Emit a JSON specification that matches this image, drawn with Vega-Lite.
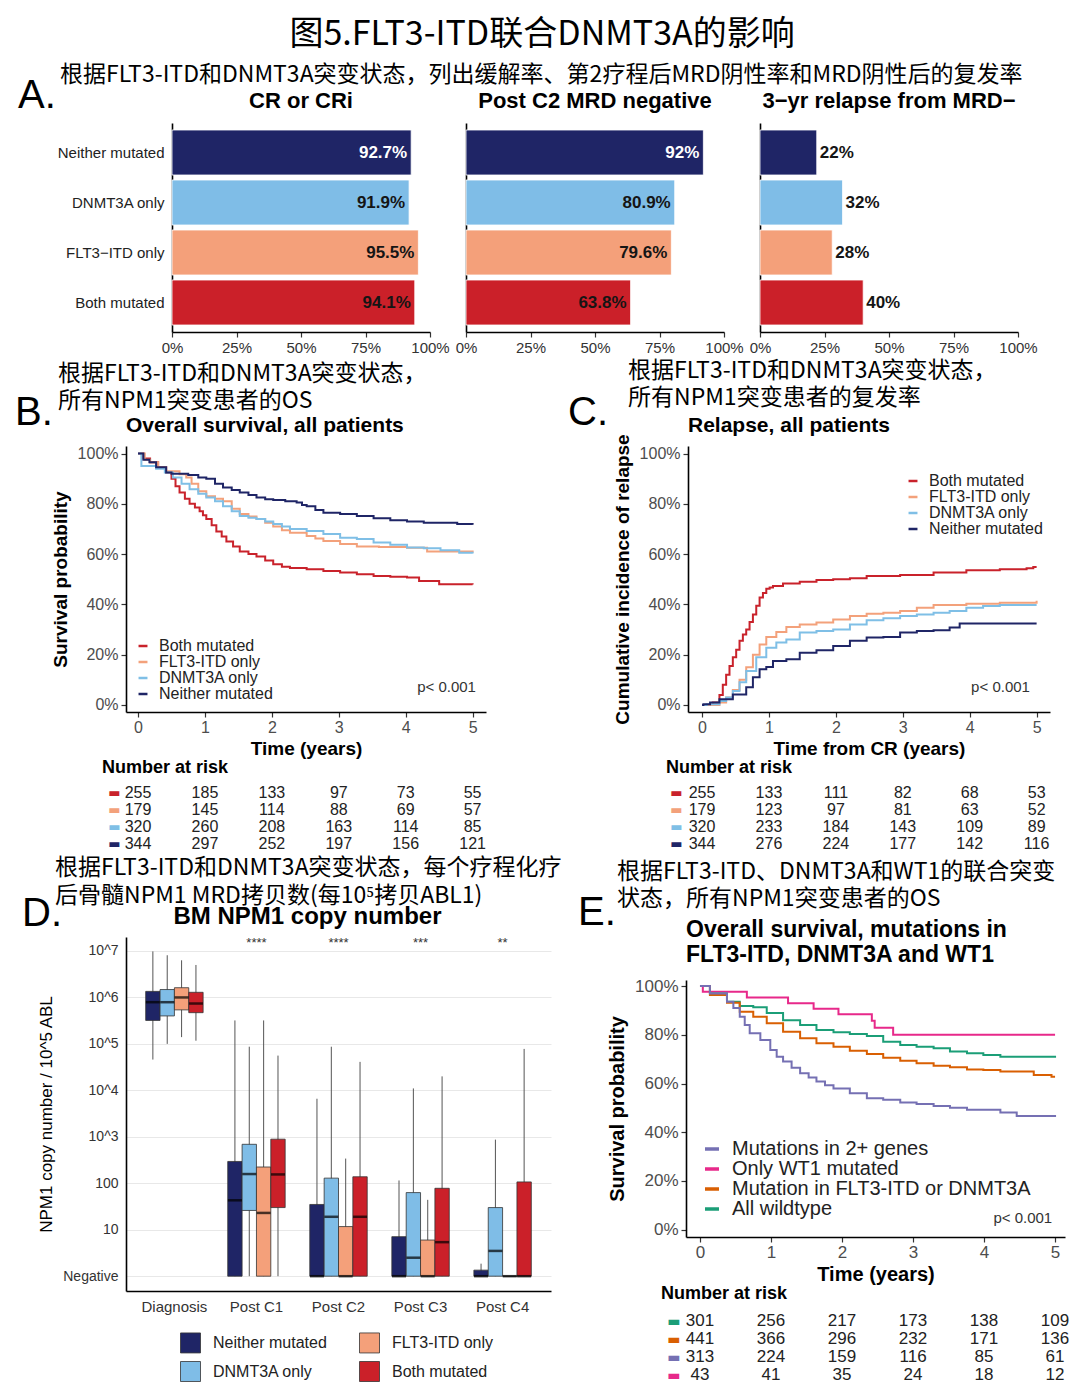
{
"$schema": "https://vega.github.io/schema/vega-lite/v6.json",
"background": "white",
"padding": {"left": 15, "top": 18, "right": 5, "bottom": 0},
"config": {
  "view": {"stroke": null},
  "font": "Liberation Sans",
  "axis": {"domainColor": "black", "domainWidth": 1.6, "tickColor": "#333", "tickWidth": 1.2, "tickSize": 5, "labelColor": "#4d4d4d", "labelFontSize": 16, "labelFont": "Liberation Sans", "titleFont": "Liberation Sans", "titleFontSize": 19, "titleFontWeight": "bold", "titleColor": "black", "grid": false},
  "legend": {"labelFont": "Liberation Sans", "labelColor": "#222", "labelLimit": 400},
  "title": {"font": "Liberation Sans", "color": "black"}
},
"datasets": {
  "A": [
    {"g": "Neither mutated", "cr": 0.927, "crl": "92.7%", "mrd": 0.92, "mrdl": "92%", "rel": 0.22, "rell": "22%"},
    {"g": "DNMT3A only", "cr": 0.919, "crl": "91.9%", "mrd": 0.809, "mrdl": "80.9%", "rel": 0.32, "rell": "32%"},
    {"g": "FLT3−ITD only", "cr": 0.955, "crl": "95.5%", "mrd": 0.796, "mrdl": "79.6%", "rel": 0.28, "rell": "28%"},
    {"g": "Both mutated", "cr": 0.941, "crl": "94.1%", "mrd": 0.638, "mrdl": "63.8%", "rel": 0.40, "rell": "40%"}
  ],
  "osB": [
    {"g":"Both mutated","t":0,"s":1},{"g":"Both mutated","t":0.08,"s":0.98},{"g":"Both mutated","t":0.18,"s":0.965},{"g":"Both mutated","t":0.3,"s":0.945},{"g":"Both mutated","t":0.42,"s":0.925},{"g":"Both mutated","t":0.5,"s":0.9},{"g":"Both mutated","t":0.56,"s":0.87},{"g":"Both mutated","t":0.62,"s":0.845},{"g":"Both mutated","t":0.7,"s":0.82},{"g":"Both mutated","t":0.77,"s":0.8},{"g":"Both mutated","t":0.85,"s":0.785},{"g":"Both mutated","t":0.92,"s":0.77},{"g":"Both mutated","t":0.97,"s":0.755},{"g":"Both mutated","t":1.02,"s":0.74},{"g":"Both mutated","t":1.1,"s":0.715},{"g":"Both mutated","t":1.17,"s":0.69},{"g":"Both mutated","t":1.25,"s":0.67},{"g":"Both mutated","t":1.32,"s":0.65},{"g":"Both mutated","t":1.42,"s":0.63},{"g":"Both mutated","t":1.52,"s":0.61},{"g":"Both mutated","t":1.65,"s":0.6},{"g":"Both mutated","t":1.77,"s":0.59},{"g":"Both mutated","t":1.9,"s":0.575},{"g":"Both mutated","t":2.02,"s":0.56},{"g":"Both mutated","t":2.15,"s":0.55},{"g":"Both mutated","t":2.27,"s":0.545},{"g":"Both mutated","t":2.52,"s":0.54},{"g":"Both mutated","t":2.77,"s":0.533},{"g":"Both mutated","t":3.02,"s":0.527},{"g":"Both mutated","t":3.27,"s":0.52},{"g":"Both mutated","t":3.52,"s":0.513},{"g":"Both mutated","t":3.77,"s":0.51},{"g":"Both mutated","t":4.02,"s":0.507},{"g":"Both mutated","t":4.2,"s":0.493},{"g":"Both mutated","t":4.5,"s":0.48},{"g":"Both mutated","t":5,"s":0.479},
    {"g":"FLT3-ITD only","t":0,"s":1},{"g":"FLT3-ITD only","t":0.1,"s":0.975},{"g":"FLT3-ITD only","t":0.18,"s":0.965},{"g":"FLT3-ITD only","t":0.3,"s":0.945},{"g":"FLT3-ITD only","t":0.42,"s":0.93},{"g":"FLT3-ITD only","t":0.62,"s":0.918},{"g":"FLT3-ITD only","t":0.72,"s":0.905},{"g":"FLT3-ITD only","t":0.8,"s":0.88},{"g":"FLT3-ITD only","t":0.9,"s":0.85},{"g":"FLT3-ITD only","t":1.02,"s":0.83},{"g":"FLT3-ITD only","t":1.15,"s":0.82},{"g":"FLT3-ITD only","t":1.27,"s":0.81},{"g":"FLT3-ITD only","t":1.4,"s":0.78},{"g":"FLT3-ITD only","t":1.52,"s":0.76},{"g":"FLT3-ITD only","t":1.65,"s":0.75},{"g":"FLT3-ITD only","t":1.77,"s":0.74},{"g":"FLT3-ITD only","t":1.9,"s":0.725},{"g":"FLT3-ITD only","t":2.02,"s":0.71},{"g":"FLT3-ITD only","t":2.15,"s":0.695},{"g":"FLT3-ITD only","t":2.27,"s":0.685},{"g":"FLT3-ITD only","t":2.52,"s":0.672},{"g":"FLT3-ITD only","t":2.65,"s":0.662},{"g":"FLT3-ITD only","t":2.77,"s":0.652},{"g":"FLT3-ITD only","t":3.02,"s":0.64},{"g":"FLT3-ITD only","t":3.27,"s":0.63},{"g":"FLT3-ITD only","t":3.6,"s":0.628},{"g":"FLT3-ITD only","t":4.02,"s":0.625},{"g":"FLT3-ITD only","t":4.32,"s":0.61},{"g":"FLT3-ITD only","t":5,"s":0.606},
    {"g":"DNMT3A only","t":0,"s":1},{"g":"DNMT3A only","t":0.05,"s":0.95},{"g":"DNMT3A only","t":0.27,"s":0.94},{"g":"DNMT3A only","t":0.4,"s":0.925},{"g":"DNMT3A only","t":0.52,"s":0.905},{"g":"DNMT3A only","t":0.65,"s":0.88},{"g":"DNMT3A only","t":0.77,"s":0.858},{"g":"DNMT3A only","t":0.9,"s":0.84},{"g":"DNMT3A only","t":1.02,"s":0.825},{"g":"DNMT3A only","t":1.15,"s":0.81},{"g":"DNMT3A only","t":1.27,"s":0.79},{"g":"DNMT3A only","t":1.4,"s":0.77},{"g":"DNMT3A only","t":1.52,"s":0.752},{"g":"DNMT3A only","t":1.65,"s":0.745},{"g":"DNMT3A only","t":1.77,"s":0.74},{"g":"DNMT3A only","t":1.9,"s":0.73},{"g":"DNMT3A only","t":2.02,"s":0.72},{"g":"DNMT3A only","t":2.15,"s":0.71},{"g":"DNMT3A only","t":2.27,"s":0.7},{"g":"DNMT3A only","t":2.52,"s":0.692},{"g":"DNMT3A only","t":2.77,"s":0.68},{"g":"DNMT3A only","t":3.02,"s":0.665},{"g":"DNMT3A only","t":3.27,"s":0.66},{"g":"DNMT3A only","t":3.52,"s":0.646},{"g":"DNMT3A only","t":3.77,"s":0.637},{"g":"DNMT3A only","t":4.02,"s":0.626},{"g":"DNMT3A only","t":4.27,"s":0.623},{"g":"DNMT3A only","t":4.52,"s":0.615},{"g":"DNMT3A only","t":4.8,"s":0.605},{"g":"DNMT3A only","t":5,"s":0.602},
    {"g":"Neither mutated","t":0,"s":1},{"g":"Neither mutated","t":0.08,"s":0.975},{"g":"Neither mutated","t":0.17,"s":0.965},{"g":"Neither mutated","t":0.27,"s":0.945},{"g":"Neither mutated","t":0.42,"s":0.925},{"g":"Neither mutated","t":0.5,"s":0.92},{"g":"Neither mutated","t":0.75,"s":0.915},{"g":"Neither mutated","t":0.9,"s":0.905},{"g":"Neither mutated","t":1.02,"s":0.9},{"g":"Neither mutated","t":1.15,"s":0.88},{"g":"Neither mutated","t":1.27,"s":0.865},{"g":"Neither mutated","t":1.4,"s":0.855},{"g":"Neither mutated","t":1.52,"s":0.845},{"g":"Neither mutated","t":1.65,"s":0.835},{"g":"Neither mutated","t":1.77,"s":0.825},{"g":"Neither mutated","t":1.9,"s":0.818},{"g":"Neither mutated","t":2.02,"s":0.815},{"g":"Neither mutated","t":2.2,"s":0.81},{"g":"Neither mutated","t":2.37,"s":0.805},{"g":"Neither mutated","t":2.45,"s":0.795},{"g":"Neither mutated","t":2.52,"s":0.79},{"g":"Neither mutated","t":2.65,"s":0.775},{"g":"Neither mutated","t":2.77,"s":0.765},{"g":"Neither mutated","t":3.02,"s":0.76},{"g":"Neither mutated","t":3.27,"s":0.752},{"g":"Neither mutated","t":3.52,"s":0.743},{"g":"Neither mutated","t":3.77,"s":0.735},{"g":"Neither mutated","t":4.02,"s":0.73},{"g":"Neither mutated","t":4.27,"s":0.725},{"g":"Neither mutated","t":4.77,"s":0.72},{"g":"Neither mutated","t":5,"s":0.717}
  ],
  "relC": [
    {"g":"Both mutated","t":0,"s":0},{"g":"Both mutated","t":0.16,"s":0.01},{"g":"Both mutated","t":0.26,"s":0.04},{"g":"Both mutated","t":0.31,"s":0.08},{"g":"Both mutated","t":0.36,"s":0.12},{"g":"Both mutated","t":0.41,"s":0.155},{"g":"Both mutated","t":0.46,"s":0.19},{"g":"Both mutated","t":0.51,"s":0.22},{"g":"Both mutated","t":0.56,"s":0.255},{"g":"Both mutated","t":0.61,"s":0.28},{"g":"Both mutated","t":0.66,"s":0.3},{"g":"Both mutated","t":0.71,"s":0.33},{"g":"Both mutated","t":0.76,"s":0.36},{"g":"Both mutated","t":0.81,"s":0.395},{"g":"Both mutated","t":0.86,"s":0.427},{"g":"Both mutated","t":0.91,"s":0.445},{"g":"Both mutated","t":0.96,"s":0.462},{"g":"Both mutated","t":1.01,"s":0.467},{"g":"Both mutated","t":1.06,"s":0.473},{"g":"Both mutated","t":1.21,"s":0.483},{"g":"Both mutated","t":1.46,"s":0.49},{"g":"Both mutated","t":1.71,"s":0.497},{"g":"Both mutated","t":1.96,"s":0.5},{"g":"Both mutated","t":2.21,"s":0.504},{"g":"Both mutated","t":2.46,"s":0.513},{"g":"Both mutated","t":2.96,"s":0.517},{"g":"Both mutated","t":3.46,"s":0.527},{"g":"Both mutated","t":3.95,"s":0.536},{"g":"Both mutated","t":4.45,"s":0.54},{"g":"Both mutated","t":4.85,"s":0.544},{"g":"Both mutated","t":4.95,"s":0.549},{"g":"Both mutated","t":5,"s":0.549},
    {"g":"FLT3-ITD only","t":0,"s":0},{"g":"FLT3-ITD only","t":0.26,"s":0.01},{"g":"FLT3-ITD only","t":0.36,"s":0.03},{"g":"FLT3-ITD only","t":0.46,"s":0.06},{"g":"FLT3-ITD only","t":0.56,"s":0.1},{"g":"FLT3-ITD only","t":0.66,"s":0.15},{"g":"FLT3-ITD only","t":0.76,"s":0.2},{"g":"FLT3-ITD only","t":0.86,"s":0.24},{"g":"FLT3-ITD only","t":0.96,"s":0.27},{"g":"FLT3-ITD only","t":1.11,"s":0.29},{"g":"FLT3-ITD only","t":1.26,"s":0.31},{"g":"FLT3-ITD only","t":1.46,"s":0.32},{"g":"FLT3-ITD only","t":1.71,"s":0.328},{"g":"FLT3-ITD only","t":1.96,"s":0.34},{"g":"FLT3-ITD only","t":2.21,"s":0.354},{"g":"FLT3-ITD only","t":2.46,"s":0.363},{"g":"FLT3-ITD only","t":2.71,"s":0.367},{"g":"FLT3-ITD only","t":2.96,"s":0.374},{"g":"FLT3-ITD only","t":3.21,"s":0.387},{"g":"FLT3-ITD only","t":3.46,"s":0.398},{"g":"FLT3-ITD only","t":3.95,"s":0.403},{"g":"FLT3-ITD only","t":4.45,"s":0.407},{"g":"FLT3-ITD only","t":5,"s":0.414},
    {"g":"DNMT3A only","t":0,"s":0},{"g":"DNMT3A only","t":0.07,"s":0.003},{"g":"DNMT3A only","t":0.26,"s":0.016},{"g":"DNMT3A only","t":0.36,"s":0.03},{"g":"DNMT3A only","t":0.46,"s":0.056},{"g":"DNMT3A only","t":0.56,"s":0.09},{"g":"DNMT3A only","t":0.66,"s":0.135},{"g":"DNMT3A only","t":0.81,"s":0.19},{"g":"DNMT3A only","t":0.96,"s":0.228},{"g":"DNMT3A only","t":1.11,"s":0.248},{"g":"DNMT3A only","t":1.26,"s":0.26},{"g":"DNMT3A only","t":1.46,"s":0.288},{"g":"DNMT3A only","t":1.71,"s":0.294},{"g":"DNMT3A only","t":1.96,"s":0.3},{"g":"DNMT3A only","t":2.21,"s":0.32},{"g":"DNMT3A only","t":2.46,"s":0.337},{"g":"DNMT3A only","t":2.71,"s":0.345},{"g":"DNMT3A only","t":2.96,"s":0.354},{"g":"DNMT3A only","t":3.21,"s":0.36},{"g":"DNMT3A only","t":3.46,"s":0.367},{"g":"DNMT3A only","t":3.7,"s":0.374},{"g":"DNMT3A only","t":3.95,"s":0.387},{"g":"DNMT3A only","t":4.2,"s":0.394},{"g":"DNMT3A only","t":4.45,"s":0.398},{"g":"DNMT3A only","t":5,"s":0.398},
    {"g":"Neither mutated","t":0,"s":0},{"g":"Neither mutated","t":0.02,"s":0.003},{"g":"Neither mutated","t":0.12,"s":0.01},{"g":"Neither mutated","t":0.26,"s":0.023},{"g":"Neither mutated","t":0.46,"s":0.042},{"g":"Neither mutated","t":0.66,"s":0.07},{"g":"Neither mutated","t":0.76,"s":0.11},{"g":"Neither mutated","t":0.86,"s":0.142},{"g":"Neither mutated","t":0.96,"s":0.151},{"g":"Neither mutated","t":1.06,"s":0.175},{"g":"Neither mutated","t":1.26,"s":0.182},{"g":"Neither mutated","t":1.46,"s":0.208},{"g":"Neither mutated","t":1.71,"s":0.218},{"g":"Neither mutated","t":1.96,"s":0.235},{"g":"Neither mutated","t":2.21,"s":0.255},{"g":"Neither mutated","t":2.46,"s":0.268},{"g":"Neither mutated","t":2.71,"s":0.27},{"g":"Neither mutated","t":2.96,"s":0.288},{"g":"Neither mutated","t":3.21,"s":0.294},{"g":"Neither mutated","t":3.46,"s":0.297},{"g":"Neither mutated","t":3.7,"s":0.308},{"g":"Neither mutated","t":3.85,"s":0.324},{"g":"Neither mutated","t":5,"s":0.324}
  ],
  "riskB": [
    {"g":"Both mutated","t":0,"n":255},{"g":"Both mutated","t":1,"n":185},{"g":"Both mutated","t":2,"n":133},{"g":"Both mutated","t":3,"n":97},{"g":"Both mutated","t":4,"n":73},{"g":"Both mutated","t":5,"n":55},
    {"g":"FLT3-ITD only","t":0,"n":179},{"g":"FLT3-ITD only","t":1,"n":145},{"g":"FLT3-ITD only","t":2,"n":114},{"g":"FLT3-ITD only","t":3,"n":88},{"g":"FLT3-ITD only","t":4,"n":69},{"g":"FLT3-ITD only","t":5,"n":57},
    {"g":"DNMT3A only","t":0,"n":320},{"g":"DNMT3A only","t":1,"n":260},{"g":"DNMT3A only","t":2,"n":208},{"g":"DNMT3A only","t":3,"n":163},{"g":"DNMT3A only","t":4,"n":114},{"g":"DNMT3A only","t":5,"n":85},
    {"g":"Neither mutated","t":0,"n":344},{"g":"Neither mutated","t":1,"n":297},{"g":"Neither mutated","t":2,"n":252},{"g":"Neither mutated","t":3,"n":197},{"g":"Neither mutated","t":4,"n":156},{"g":"Neither mutated","t":5,"n":121}
  ],
  "riskC": [
    {"g":"Both mutated","t":0,"n":255},{"g":"Both mutated","t":1,"n":133},{"g":"Both mutated","t":2,"n":111},{"g":"Both mutated","t":3,"n":82},{"g":"Both mutated","t":4,"n":68},{"g":"Both mutated","t":5,"n":53},
    {"g":"FLT3-ITD only","t":0,"n":179},{"g":"FLT3-ITD only","t":1,"n":123},{"g":"FLT3-ITD only","t":2,"n":97},{"g":"FLT3-ITD only","t":3,"n":81},{"g":"FLT3-ITD only","t":4,"n":63},{"g":"FLT3-ITD only","t":5,"n":52},
    {"g":"DNMT3A only","t":0,"n":320},{"g":"DNMT3A only","t":1,"n":233},{"g":"DNMT3A only","t":2,"n":184},{"g":"DNMT3A only","t":3,"n":143},{"g":"DNMT3A only","t":4,"n":109},{"g":"DNMT3A only","t":5,"n":89},
    {"g":"Neither mutated","t":0,"n":344},{"g":"Neither mutated","t":1,"n":276},{"g":"Neither mutated","t":2,"n":224},{"g":"Neither mutated","t":3,"n":177},{"g":"Neither mutated","t":4,"n":142},{"g":"Neither mutated","t":5,"n":116}
  ],
  "D": [
    {"tp":"Diagnosis","grp":"Neither mutated","lo":46000,"q1":320000,"med":790000,"q3":1350000,"hi":9800000},
    {"tp":"Diagnosis","grp":"DNMT3A only","lo":100000,"q1":400000,"med":790000,"q3":1480000,"hi":8100000},
    {"tp":"Diagnosis","grp":"FLT3-ITD only","lo":140000,"q1":540000,"med":1000000,"q3":1620000,"hi":6300000},
    {"tp":"Diagnosis","grp":"Both mutated","lo":117000,"q1":470000,"med":740000,"q3":1290000,"hi":5000000},
    {"tp":"Post C1","grp":"Neither mutated","lo":1,"q1":1,"med":43,"q3":295,"hi":320000},
    {"tp":"Post C1","grp":"DNMT3A only","lo":1,"q1":26,"med":158,"q3":690,"hi":87000},
    {"tp":"Post C1","grp":"FLT3-ITD only","lo":1,"q1":1,"med":23,"q3":224,"hi":320000},
    {"tp":"Post C1","grp":"Both mutated","lo":1,"q1":30,"med":155,"q3":890,"hi":56000},
    {"tp":"Post C2","grp":"Neither mutated","lo":1,"q1":1,"med":1,"q3":35,"hi":6600},
    {"tp":"Post C2","grp":"DNMT3A only","lo":1,"q1":1,"med":19,"q3":129,"hi":87000},
    {"tp":"Post C2","grp":"FLT3-ITD only","lo":1,"q1":1,"med":1,"q3":11.7,"hi":340},
    {"tp":"Post C2","grp":"Both mutated","lo":1,"q1":1,"med":19,"q3":138,"hi":41000},
    {"tp":"Post C3","grp":"Neither mutated","lo":1,"q1":1,"med":1,"q3":7.1,"hi":115},
    {"tp":"Post C3","grp":"DNMT3A only","lo":1,"q1":1,"med":2.5,"q3":63,"hi":11000},
    {"tp":"Post C3","grp":"FLT3-ITD only","lo":1,"q1":1,"med":1,"q3":6,"hi":44},
    {"tp":"Post C3","grp":"Both mutated","lo":1,"q1":1,"med":5.4,"q3":78,"hi":20000},
    {"tp":"Post C4","grp":"Neither mutated","lo":1,"q1":1,"med":1,"q3":1.35,"hi":1.86},
    {"tp":"Post C4","grp":"DNMT3A only","lo":1,"q1":1,"med":3.5,"q3":30,"hi":870},
    {"tp":"Post C4","grp":"FLT3-ITD only","lo":1,"q1":1,"med":1,"q3":1,"hi":1},
    {"tp":"Post C4","grp":"Both mutated","lo":1,"q1":1,"med":1,"q3":107,"hi":78000}
  ],
  "stars": [
    {"tp":"Post C1","st":"****"},{"tp":"Post C2","st":"****"},{"tp":"Post C3","st":"***"},{"tp":"Post C4","st":"**"}
  ],
  "osE": [
    {"g":"Only WT1 mutated","t":0,"s":1},{"g":"Only WT1 mutated","t":0.04,"s":0.977},{"g":"Only WT1 mutated","t":0.66,"s":0.953},{"g":"Only WT1 mutated","t":1.24,"s":0.93},{"g":"Only WT1 mutated","t":1.6,"s":0.907},{"g":"Only WT1 mutated","t":1.95,"s":0.884},{"g":"Only WT1 mutated","t":2.42,"s":0.858},{"g":"Only WT1 mutated","t":2.46,"s":0.829},{"g":"Only WT1 mutated","t":2.72,"s":0.8},{"g":"Only WT1 mutated","t":5,"s":0.8},
    {"g":"All wildtype","t":0,"s":1},{"g":"All wildtype","t":0.14,"s":0.97},{"g":"All wildtype","t":0.38,"s":0.936},{"g":"All wildtype","t":0.56,"s":0.918},{"g":"All wildtype","t":0.75,"s":0.913},{"g":"All wildtype","t":0.94,"s":0.89},{"g":"All wildtype","t":1.17,"s":0.86},{"g":"All wildtype","t":1.41,"s":0.84},{"g":"All wildtype","t":1.64,"s":0.82},{"g":"All wildtype","t":1.88,"s":0.81},{"g":"All wildtype","t":2.11,"s":0.803},{"g":"All wildtype","t":2.35,"s":0.795},{"g":"All wildtype","t":2.58,"s":0.772},{"g":"All wildtype","t":2.82,"s":0.758},{"g":"All wildtype","t":3.05,"s":0.751},{"g":"All wildtype","t":3.29,"s":0.745},{"g":"All wildtype","t":3.52,"s":0.731},{"g":"All wildtype","t":3.76,"s":0.724},{"g":"All wildtype","t":3.99,"s":0.717},{"g":"All wildtype","t":4.23,"s":0.71},{"g":"All wildtype","t":5,"s":0.706},
    {"g":"Mutation in FLT3-ITD or DNMT3A","t":0,"s":1},{"g":"Mutation in FLT3-ITD or DNMT3A","t":0.14,"s":0.963},{"g":"Mutation in FLT3-ITD or DNMT3A","t":0.38,"s":0.932},{"g":"Mutation in FLT3-ITD or DNMT3A","t":0.56,"s":0.895},{"g":"Mutation in FLT3-ITD or DNMT3A","t":0.75,"s":0.874},{"g":"Mutation in FLT3-ITD or DNMT3A","t":0.94,"s":0.847},{"g":"Mutation in FLT3-ITD or DNMT3A","t":1.17,"s":0.813},{"g":"Mutation in FLT3-ITD or DNMT3A","t":1.41,"s":0.786},{"g":"Mutation in FLT3-ITD or DNMT3A","t":1.64,"s":0.765},{"g":"Mutation in FLT3-ITD or DNMT3A","t":1.88,"s":0.751},{"g":"Mutation in FLT3-ITD or DNMT3A","t":2.11,"s":0.735},{"g":"Mutation in FLT3-ITD or DNMT3A","t":2.35,"s":0.721},{"g":"Mutation in FLT3-ITD or DNMT3A","t":2.58,"s":0.706},{"g":"Mutation in FLT3-ITD or DNMT3A","t":2.82,"s":0.694},{"g":"Mutation in FLT3-ITD or DNMT3A","t":3.05,"s":0.683},{"g":"Mutation in FLT3-ITD or DNMT3A","t":3.29,"s":0.673},{"g":"Mutation in FLT3-ITD or DNMT3A","t":3.52,"s":0.667},{"g":"Mutation in FLT3-ITD or DNMT3A","t":3.76,"s":0.658},{"g":"Mutation in FLT3-ITD or DNMT3A","t":3.99,"s":0.656},{"g":"Mutation in FLT3-ITD or DNMT3A","t":4.23,"s":0.649},{"g":"Mutation in FLT3-ITD or DNMT3A","t":4.7,"s":0.635},{"g":"Mutation in FLT3-ITD or DNMT3A","t":4.95,"s":0.628},{"g":"Mutation in FLT3-ITD or DNMT3A","t":5,"s":0.628},
    {"g":"Mutations in 2+ genes","t":0,"s":1},{"g":"Mutations in 2+ genes","t":0.14,"s":0.97},{"g":"Mutations in 2+ genes","t":0.38,"s":0.936},{"g":"Mutations in 2+ genes","t":0.47,"s":0.91},{"g":"Mutations in 2+ genes","t":0.56,"s":0.874},{"g":"Mutations in 2+ genes","t":0.63,"s":0.84},{"g":"Mutations in 2+ genes","t":0.7,"s":0.806},{"g":"Mutations in 2+ genes","t":0.85,"s":0.779},{"g":"Mutations in 2+ genes","t":0.99,"s":0.738},{"g":"Mutations in 2+ genes","t":1.08,"s":0.71},{"g":"Mutations in 2+ genes","t":1.17,"s":0.69},{"g":"Mutations in 2+ genes","t":1.29,"s":0.665},{"g":"Mutations in 2+ genes","t":1.41,"s":0.642},{"g":"Mutations in 2+ genes","t":1.53,"s":0.625},{"g":"Mutations in 2+ genes","t":1.64,"s":0.608},{"g":"Mutations in 2+ genes","t":1.76,"s":0.593},{"g":"Mutations in 2+ genes","t":1.88,"s":0.58},{"g":"Mutations in 2+ genes","t":2.11,"s":0.56},{"g":"Mutations in 2+ genes","t":2.35,"s":0.54},{"g":"Mutations in 2+ genes","t":2.58,"s":0.533},{"g":"Mutations in 2+ genes","t":2.82,"s":0.522},{"g":"Mutations in 2+ genes","t":3.05,"s":0.516},{"g":"Mutations in 2+ genes","t":3.29,"s":0.508},{"g":"Mutations in 2+ genes","t":3.52,"s":0.501},{"g":"Mutations in 2+ genes","t":3.76,"s":0.492},{"g":"Mutations in 2+ genes","t":4.23,"s":0.481},{"g":"Mutations in 2+ genes","t":4.46,"s":0.467},{"g":"Mutations in 2+ genes","t":5,"s":0.463}
  ],
  "riskE": [
    {"g":"All wildtype","t":0,"n":301},{"g":"All wildtype","t":1,"n":256},{"g":"All wildtype","t":2,"n":217},{"g":"All wildtype","t":3,"n":173},{"g":"All wildtype","t":4,"n":138},{"g":"All wildtype","t":5,"n":109},
    {"g":"Mutation in FLT3-ITD or DNMT3A","t":0,"n":441},{"g":"Mutation in FLT3-ITD or DNMT3A","t":1,"n":366},{"g":"Mutation in FLT3-ITD or DNMT3A","t":2,"n":296},{"g":"Mutation in FLT3-ITD or DNMT3A","t":3,"n":232},{"g":"Mutation in FLT3-ITD or DNMT3A","t":4,"n":171},{"g":"Mutation in FLT3-ITD or DNMT3A","t":5,"n":136},
    {"g":"Mutations in 2+ genes","t":0,"n":313},{"g":"Mutations in 2+ genes","t":1,"n":224},{"g":"Mutations in 2+ genes","t":2,"n":159},{"g":"Mutations in 2+ genes","t":3,"n":116},{"g":"Mutations in 2+ genes","t":4,"n":85},{"g":"Mutations in 2+ genes","t":5,"n":61},
    {"g":"Only WT1 mutated","t":0,"n":43},{"g":"Only WT1 mutated","t":1,"n":41},{"g":"Only WT1 mutated","t":2,"n":35},{"g":"Only WT1 mutated","t":3,"n":24},{"g":"Only WT1 mutated","t":4,"n":18},{"g":"Only WT1 mutated","t":5,"n":12}
  ]
},
"title": {"text": "图5.FLT3-ITD联合DNMT3A的影响", "font": "Noto Sans CJK SC", "fontSize": 34, "fontWeight": "normal", "anchor": "middle", "offset": 12},
"spacing": 4,
"resolve": {"scale": {"color": "independent"}, "legend": {"color": "independent"}},
"vconcat": [
  {
    "title": {"text": "A.", "anchor": "start", "frame": "group", "font": "Liberation Sans", "fontSize": 40, "fontWeight": "normal", "dx": -108, "offset": -52},
    "vconcat": [
      {
        "title": {"text": "根据FLT3-ITD和DNMT3A突变状态，列出缓解率、第2疗程后MRD阴性率和MRD阴性后的复发率", "anchor": "start", "frame": "group", "font": "Noto Sans CJK SC", "fontSize": 23, "fontWeight": "normal", "dx": -66, "offset": 3},
        "bounds": "flush",
        "spacing": 36,
        "hconcat": [
          {"width": 10, "height": 10, "data": {"values": []}, "mark": "point"},
          {
            "width": 258, "height": 209,
            "data": {"name": "A"},
            "title": {"text": "CR or CRi", "anchor": "middle", "frame": "group", "fontSize": 22, "fontWeight": "bold", "offset": 10},
            "encoding": {
              "y": {"field": "g", "type": "nominal", "sort": ["Neither mutated","DNMT3A only","FLT3−ITD only","Both mutated"], "scale": {"paddingInner": 0.1, "paddingOuter": 0.14}, "axis": {"title": null, "ticks": false, "labelFontSize": 15, "labelColor": "#222", "labelPadding": 8}},
              "x": {"field": "cr", "type": "quantitative", "scale": {"domain": [0, 1], "nice": false}, "axis": {"title": null, "values": [0, 0.25, 0.5, 0.75, 1], "format": ".0%", "labelFlush": false, "labelFontSize": 15, "labelColor": "#333", "labelPadding": 3}}
            },
            "layer": [
              {"mark": {"type": "bar", "stroke": "white", "strokeWidth": 0.8}, "encoding": {"color": {"field": "g", "type": "nominal", "scale": {"domain": ["Neither mutated","DNMT3A only","FLT3−ITD only","Both mutated"], "range": ["#1f2566","#7fbde7","#f4a07a","#cb2029"]}, "legend": null}}},
              {"mark": {"type": "text", "align": "right", "dx": -4, "fontSize": 17, "fontWeight": "bold"}, "encoding": {"text": {"field": "crl"}, "color": {"condition": {"test": "datum.g === 'Neither mutated'", "value": "white"}, "value": "#151515"}}}
            ]
          },
          {
            "width": 258, "height": 209,
            "data": {"name": "A"},
            "title": {"text": "Post C2 MRD negative", "anchor": "middle", "frame": "group", "fontSize": 22, "fontWeight": "bold", "offset": 10},
            "encoding": {
              "y": {"field": "g", "type": "nominal", "sort": ["Neither mutated","DNMT3A only","FLT3−ITD only","Both mutated"], "scale": {"paddingInner": 0.1, "paddingOuter": 0.14}, "axis": {"title": null, "ticks": false, "labels": false}},
              "x": {"field": "mrd", "type": "quantitative", "scale": {"domain": [0, 1], "nice": false}, "axis": {"title": null, "values": [0, 0.25, 0.5, 0.75, 1], "format": ".0%", "labelFlush": false, "labelFontSize": 15, "labelColor": "#333", "labelPadding": 3}}
            },
            "layer": [
              {"mark": {"type": "bar", "stroke": "white", "strokeWidth": 0.8}, "encoding": {"color": {"field": "g", "type": "nominal", "scale": {"domain": ["Neither mutated","DNMT3A only","FLT3−ITD only","Both mutated"], "range": ["#1f2566","#7fbde7","#f4a07a","#cb2029"]}, "legend": null}}},
              {"mark": {"type": "text", "align": "right", "dx": -4, "fontSize": 17, "fontWeight": "bold"}, "encoding": {"text": {"field": "mrdl"}, "color": {"condition": {"test": "datum.g === 'Neither mutated'", "value": "white"}, "value": "#151515"}}}
            ]
          },
          {
            "width": 258, "height": 209,
            "data": {"name": "A"},
            "title": {"text": "3−yr relapse from MRD−", "anchor": "middle", "frame": "group", "fontSize": 22, "fontWeight": "bold", "offset": 10},
            "encoding": {
              "y": {"field": "g", "type": "nominal", "sort": ["Neither mutated","DNMT3A only","FLT3−ITD only","Both mutated"], "scale": {"paddingInner": 0.1, "paddingOuter": 0.14}, "axis": {"title": null, "ticks": false, "labels": false}},
              "x": {"field": "rel", "type": "quantitative", "scale": {"domain": [0, 1], "nice": false}, "axis": {"title": null, "values": [0, 0.25, 0.5, 0.75, 1], "format": ".0%", "labelFlush": false, "labelFontSize": 15, "labelColor": "#333", "labelPadding": 3}}
            },
            "layer": [
              {"mark": {"type": "bar", "stroke": "white", "strokeWidth": 0.8}, "encoding": {"color": {"field": "g", "type": "nominal", "scale": {"domain": ["Neither mutated","DNMT3A only","FLT3−ITD only","Both mutated"], "range": ["#1f2566","#7fbde7","#f4a07a","#cb2029"]}, "legend": null}}},
              {"mark": {"type": "text", "align": "left", "dx": 3, "fontSize": 17, "fontWeight": "bold", "color": "#151515"}, "encoding": {"text": {"field": "rell"}}}
            ]
          }
        ]
      }
    ]
  },
  {
    "spacing": 82,
    "resolve": {"scale": {"color": "independent"}, "legend": {"color": "independent"}},
    "hconcat": [
      {
        "title": {"text": "B.", "anchor": "start", "frame": "group", "font": "Liberation Sans", "fontSize": 40, "fontWeight": "normal", "dx": -111, "offset": -70},
        "vconcat": [
          {
            "title": {"text": ["根据FLT3-ITD和DNMT3A突变状态，", "所有NPM1突变患者的OS"], "anchor": "start", "frame": "group", "font": "Noto Sans CJK SC", "fontSize": 23, "fontWeight": "normal", "lineHeight": 27, "dx": -68, "offset": 2},
            "bounds": "flush",
            "spacing": 72,
            "vconcat": [
              {
                "width": 360, "height": 266,
                "title": {"text": "Overall survival, all patients", "anchor": "start", "frame": "group", "fontSize": 21, "fontWeight": "bold", "offset": 10},
                "layer": [
                  {"data": {"name": "osB"},
                   "mark": {"type": "line", "interpolate": "step-after", "strokeWidth": 2},
                   "encoding": {
                     "x": {"field": "t", "type": "quantitative", "scale": {"domain": [-0.18, 5.2], "nice": false, "zero": false}, "axis": {"values": [0,1,2,3,4,5], "format": "d", "title": "Time (years)", "labelPadding": 2, "titlePadding": 4}},
                     "y": {"field": "s", "type": "quantitative", "scale": {"domain": [-0.028, 1.03], "nice": false, "zero": false}, "axis": {"values": [0,0.2,0.4,0.6,0.8,1], "format": ".0%", "title": "Survival probability", "labelPadding": 3, "titlePadding": 7}},
                     "color": {"field": "g", "type": "nominal", "scale": {"domain": ["Both mutated","FLT3-ITD only","DNMT3A only","Neither mutated"], "range": ["#c9222b","#f3a17b","#7fbfe6","#1f2566"]}, "legend": {"orient": "none", "legendX": 9, "legendY": 192, "title": null, "symbolType": "stroke", "symbolStrokeWidth": 2.5, "symbolSize": 80, "labelFontSize": 16, "rowPadding": -1, "labelOffset": 8, "padding": 0}}
                   }},
                  {"data": {"values": [{"p": "p< 0.001"}]},
                   "mark": {"type": "text", "align": "right", "fontSize": 15, "color": "#333"},
                   "encoding": {"x": {"datum": 5.05}, "y": {"datum": 0.072}, "text": {"field": "p"}}}
                ]
              },
              {
                "width": 360, "height": 68,
                "title": {"text": "Number at risk", "anchor": "start", "frame": "group", "fontSize": 18, "fontWeight": "bold", "dx": -24, "offset": 7},
                "data": {"name": "riskB"},
                "mark": {"type": "text", "fontSize": 16, "color": "#222"},
                "encoding": {
                  "x": {"field": "t", "type": "quantitative", "scale": {"domain": [-0.18, 5.2], "nice": false, "zero": false}, "axis": null},
                  "y": {"field": "g", "type": "nominal", "sort": ["Both mutated","FLT3-ITD only","DNMT3A only","Neither mutated"], "scale": {"type": "point", "padding": 0.5}, "axis": {"title": null, "domain": false, "ticks": false, "labelExpr": "'▬'", "labelFont": "DejaVu Sans", "labelFontSize": 13, "labelPadding": 6, "labelColor": {"condition": [{"test": "datum.value === 'Both mutated'", "value": "#c9222b"}, {"test": "datum.value === 'FLT3-ITD only'", "value": "#f3a17b"}, {"test": "datum.value === 'DNMT3A only'", "value": "#7fbfe6"}], "value": "#1f2566"}}},
                  "text": {"field": "n", "type": "nominal"}
                }
              }
            ]
          }
        ]
      },
      {
        "title": {"text": "C.", "anchor": "start", "frame": "group", "font": "Liberation Sans", "fontSize": 40, "fontWeight": "normal", "dx": -120, "offset": -73},
        "vconcat": [
          {
            "title": {"text": ["根据FLT3-ITD和DNMT3A突变状态，", "所有NPM1突变患者的复发率"], "anchor": "start", "frame": "group", "font": "Noto Sans CJK SC", "fontSize": 23, "fontWeight": "normal", "lineHeight": 27, "dx": -60, "offset": 5},
            "bounds": "flush",
            "spacing": 72,
            "vconcat": [
              {
                "width": 362, "height": 266,
                "title": {"text": "Relapse, all patients", "anchor": "start", "frame": "group", "fontSize": 21, "fontWeight": "bold", "offset": -2},
                "layer": [
                  {"data": {"name": "relC"},
                   "mark": {"type": "line", "interpolate": "step-after", "strokeWidth": 2},
                   "encoding": {
                     "x": {"field": "t", "type": "quantitative", "scale": {"domain": [-0.21, 5.2], "nice": false, "zero": false}, "axis": {"values": [0,1,2,3,4,5], "format": "d", "title": "Time from CR (years)", "labelPadding": 2, "titlePadding": 4}},
                     "y": {"field": "s", "type": "quantitative", "scale": {"domain": [-0.028, 1.03], "nice": false, "zero": false}, "axis": {"values": [0,0.2,0.4,0.6,0.8,1], "format": ".0%", "title": "Cumulative incidence of relapse", "labelPadding": 3, "titlePadding": 7}},
                     "color": {"field": "g", "type": "nominal", "scale": {"domain": ["Both mutated","FLT3-ITD only","DNMT3A only","Neither mutated"], "range": ["#c9222b","#f3a17b","#7fbfe6","#1f2566"]}, "legend": {"orient": "none", "legendX": 217, "legendY": 27, "title": null, "symbolType": "stroke", "symbolStrokeWidth": 2.5, "symbolSize": 80, "labelFontSize": 16, "rowPadding": -1, "labelOffset": 8, "padding": 0}}
                   }},
                  {"data": {"values": [{"p": "p< 0.001"}]},
                   "mark": {"type": "text", "align": "right", "fontSize": 15, "color": "#333"},
                   "encoding": {"x": {"datum": 4.9}, "y": {"datum": 0.072}, "text": {"field": "p"}}}
                ]
              },
              {
                "width": 362, "height": 68,
                "title": {"text": "Number at risk", "anchor": "start", "frame": "group", "fontSize": 18, "fontWeight": "bold", "dx": -22, "offset": 7},
                "data": {"name": "riskC"},
                "mark": {"type": "text", "fontSize": 16, "color": "#222"},
                "encoding": {
                  "x": {"field": "t", "type": "quantitative", "scale": {"domain": [-0.21, 5.2], "nice": false, "zero": false}, "axis": null},
                  "y": {"field": "g", "type": "nominal", "sort": ["Both mutated","FLT3-ITD only","DNMT3A only","Neither mutated"], "scale": {"type": "point", "padding": 0.5}, "axis": {"title": null, "domain": false, "ticks": false, "labelExpr": "'▬'", "labelFont": "DejaVu Sans", "labelFontSize": 13, "labelPadding": 6, "labelColor": {"condition": [{"test": "datum.value === 'Both mutated'", "value": "#c9222b"}, {"test": "datum.value === 'FLT3-ITD only'", "value": "#f3a17b"}, {"test": "datum.value === 'DNMT3A only'", "value": "#7fbfe6"}], "value": "#1f2566"}}},
                  "text": {"field": "n", "type": "nominal"}
                }
              }
            ]
          }
        ]
      }
    ]
  },
  {
    "spacing": 16,
    "resolve": {"scale": {"color": "independent"}, "legend": {"color": "independent"}},
    "hconcat": [
      {
        "title": {"text": "D.", "anchor": "start", "frame": "group", "font": "Liberation Sans", "fontSize": 40, "fontWeight": "normal", "dx": -104, "offset": -77},
        "vconcat": [
          {
            "title": {"text": ["根据FLT3-ITD和DNMT3A突变状态，每个疗程化疗", "后骨髓NPM1 MRD拷贝数(每10⁵拷贝ABL1)"], "anchor": "start", "frame": "group", "font": "Noto Sans CJK SC", "fontSize": 23, "fontWeight": "normal", "lineHeight": 28, "dx": -71, "offset": -3},
            "vconcat": [
              {
                "width": 425, "height": 354,
                "title": {"text": "BM NPM1 copy number", "anchor": "middle", "frame": "group", "fontSize": 24, "fontWeight": "bold", "dx": -31, "offset": 8},
                "layer": [
                  {"data": {"name": "D"}, "mark": {"type": "rule", "color": "#555", "strokeWidth": 1},
                   "encoding": {
                     "x": {"field": "tp", "type": "nominal", "sort": ["Diagnosis","Post C1","Post C2","Post C3","Post C4"], "scale": {"paddingInner": 0.3, "paddingOuter": 0.24}, "axis": {"title": null, "labelAngle": 0, "ticks": false, "labelFontSize": 15, "labelColor": "#333", "labelPadding": 8}},
                     "xOffset": {"field": "grp", "type": "nominal", "sort": ["Neither mutated","DNMT3A only","FLT3-ITD only","Both mutated"], "scale": {"paddingInner": 0, "paddingOuter": 0}},
                     "y": {"field": "lo", "type": "quantitative", "title": "NPM1 copy number / 10^5 ABL", "scale": {"type": "log", "domain": [0.48, 20000000], "nice": false}, "axis": {"values": [1,10,100,1000,10000,100000,1000000,10000000], "labelExpr": "datum.value <= 1 ? 'Negative' : datum.value <= 10 ? '10' : datum.value <= 100 ? '100' : '10^' + format(log(datum.value)/LN10, '.0f')", "grid": true, "gridColor": "#e8e8e8", "gridWidth": 1, "ticks": false, "labelFontSize": 14, "labelColor": "#333", "labelPadding": 8, "titleFontWeight": "normal", "titleFontSize": 17, "titlePadding": 7}},
                     "y2": {"field": "hi"}
                   }},
                  {"data": {"name": "D"}, "mark": {"type": "bar", "stroke": "#333", "strokeWidth": 0.8},
                   "encoding": {
                     "x": {"field": "tp", "type": "nominal", "sort": ["Diagnosis","Post C1","Post C2","Post C3","Post C4"]},
                     "xOffset": {"field": "grp", "type": "nominal", "sort": ["Neither mutated","DNMT3A only","FLT3-ITD only","Both mutated"]},
                     "y": {"field": "q1", "type": "quantitative", "title": "NPM1 copy number / 10^5 ABL"},
                     "y2": {"field": "q3"},
                     "color": {"field": "grp", "type": "nominal", "scale": {"domain": ["Neither mutated","DNMT3A only","FLT3-ITD only","Both mutated"], "range": ["#1f2566","#7fbde7","#f4a07a","#cb2029"]}, "legend": {"orient": "none", "legendX": 54, "legendY": 395, "columns": 2, "title": null, "symbolType": "square", "symbolSize": 400, "symbolStrokeColor": "#333", "symbolStrokeWidth": 0.8, "symbolOpacity": 1, "labelFontSize": 16, "labelOffset": 12, "rowPadding": 4, "columnPadding": 30, "padding": 0}}
                   }},
                  {"data": {"name": "D"}, "mark": {"type": "tick", "color": "black", "thickness": 2.5, "size": 14},
                   "encoding": {
                     "x": {"field": "tp", "type": "nominal", "sort": ["Diagnosis","Post C1","Post C2","Post C3","Post C4"]},
                     "xOffset": {"field": "grp", "type": "nominal", "sort": ["Neither mutated","DNMT3A only","FLT3-ITD only","Both mutated"]},
                     "y": {"field": "med", "type": "quantitative", "title": "NPM1 copy number / 10^5 ABL"}
                   }},
                  {"data": {"name": "stars"}, "mark": {"type": "text", "fontSize": 13, "color": "#333"},
                   "encoding": {
                     "x": {"field": "tp", "type": "nominal", "sort": ["Diagnosis","Post C1","Post C2","Post C3","Post C4"]},
                     "y": {"datum": 15000000},
                     "text": {"field": "st"}
                   }}
                ]
              }
            ]
          }
        ]
      },
      {
        "title": {"text": "E.", "anchor": "start", "frame": "group", "font": "Liberation Sans", "fontSize": 40, "fontWeight": "normal", "dx": -108, "offset": -72},
        "vconcat": [
          {
            "title": {"text": ["根据FLT3-ITD、DNMT3A和WT1的联合突变", "状态，所有NPM1突变患者的OS"], "anchor": "start", "frame": "group", "font": "Noto Sans CJK SC", "fontSize": 23, "fontWeight": "normal", "lineHeight": 27, "dx": -69, "offset": 8},
            "bounds": "flush",
            "spacing": 42,
            "vconcat": [
              {"width": 10, "height": 1, "data": {"values": []}, "mark": "point"},
              {
                "bounds": "flush",
                "spacing": 75,
                "vconcat": [
                  {
                    "width": 379, "height": 257,
                    "title": {"text": ["Overall survival, mutations in", "FLT3-ITD, DNMT3A and WT1"], "anchor": "start", "frame": "group", "fontSize": 23, "fontWeight": "bold", "lineHeight": 25, "offset": 10},
                    "layer": [
                      {"data": {"name": "osE"},
                       "mark": {"type": "line", "interpolate": "step-after", "strokeWidth": 2},
                       "encoding": {
                         "x": {"field": "t", "type": "quantitative", "scale": {"domain": [-0.197, 5.14], "nice": false, "zero": false}, "axis": {"values": [0,1,2,3,4,5], "format": "d", "title": "Time (years)", "labelPadding": 2, "titlePadding": 4, "labelFontSize": 17, "titleFontSize": 20}},
                         "y": {"field": "s", "type": "quantitative", "scale": {"domain": [-0.03, 1.025], "nice": false, "zero": false}, "axis": {"values": [0,0.2,0.4,0.6,0.8,1], "format": ".0%", "title": "Survival probability", "labelPadding": 3, "titlePadding": 7, "labelFontSize": 17, "titleFontSize": 20}},
                         "color": {"field": "g", "type": "nominal", "scale": {"domain": ["Mutations in 2+ genes","Only WT1 mutated","Mutation in FLT3-ITD or DNMT3A","All wildtype"], "range": ["#7570b3","#e7298a","#d95f02","#1b9e77"]}, "legend": {"orient": "none", "legendX": 16, "legendY": 202, "title": null, "symbolType": "stroke", "symbolStrokeWidth": 3.5, "symbolSize": 196, "labelFontSize": 20, "labelLimit": 400, "rowPadding": -3, "labelOffset": 10, "padding": 0}}
                       }},
                      {"data": {"values": [{"p": "p< 0.001"}]},
                       "mark": {"type": "text", "align": "right", "fontSize": 15, "color": "#333"},
                       "encoding": {"x": {"datum": 4.96}, "y": {"datum": 0.048}, "text": {"field": "p"}}}
                    ]
                  },
                  {
                    "width": 379, "height": 72,
                    "title": {"text": "Number at risk", "anchor": "start", "frame": "group", "fontSize": 18, "fontWeight": "bold", "dx": -25, "offset": 9},
                    "data": {"name": "riskE"},
                    "mark": {"type": "text", "fontSize": 17, "color": "#222"},
                    "encoding": {
                      "x": {"field": "t", "type": "quantitative", "scale": {"domain": [-0.197, 5.14], "nice": false, "zero": false}, "axis": null},
                      "y": {"field": "g", "type": "nominal", "sort": ["All wildtype","Mutation in FLT3-ITD or DNMT3A","Mutations in 2+ genes","Only WT1 mutated"], "scale": {"type": "point", "padding": 0.5}, "axis": {"title": null, "domain": false, "ticks": false, "labelExpr": "'▬'", "labelFont": "DejaVu Sans", "labelFontSize": 14, "labelPadding": 6, "labelColor": {"condition": [{"test": "datum.value === 'All wildtype'", "value": "#1b9e77"}, {"test": "datum.value === 'Mutation in FLT3-ITD or DNMT3A'", "value": "#d95f02"}, {"test": "datum.value === 'Mutations in 2+ genes'", "value": "#7570b3"}], "value": "#e7298a"}}},
                      "text": {"field": "n", "type": "nominal"}
                    }
                  }
                ]
              }
            ]
          }
        ]
      }
    ]
  }
]
}
